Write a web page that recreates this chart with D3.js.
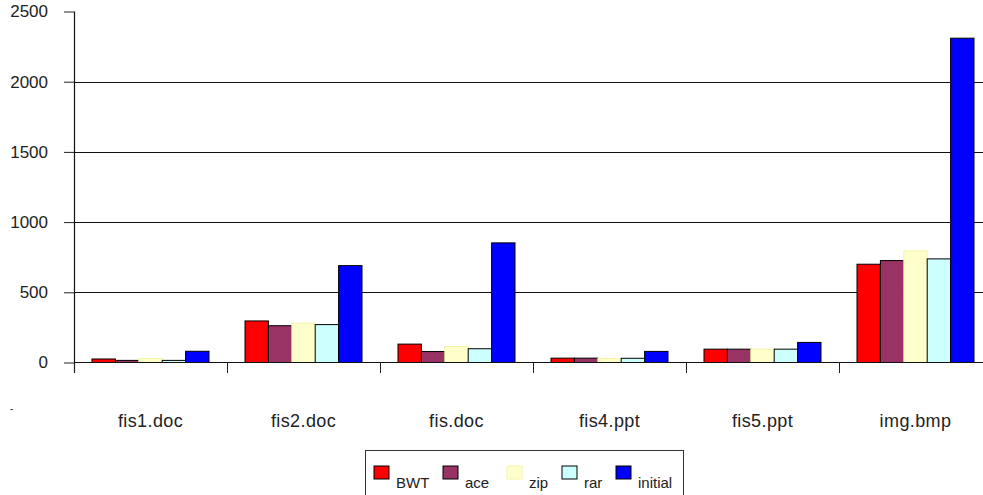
<!DOCTYPE html>
<html>
<head>
<meta charset="utf-8">
<script src="https://cdn.jsdelivr.net/npm/d3@7"></script>
<style>
  html, body { margin: 0; padding: 0; background: #fff; }
  svg { display: block; }
  text { font-family: Arial, "Liberation Sans", sans-serif; fill: #222; }
</style>
</head>
<body>
<svg id="chart" width="983" height="495"></svg>
<script>
// ---- data ----
const categories = ["fis1.doc", "fis2.doc", "fis.doc", "fis4.ppt", "fis5.ppt", "img.bmp"];
const seriesNames = ["BWT", "ace", "zip", "rar", "initial"];
const BWT     = [25, 296, 131, 31, 95, 700];
const ace     = [15, 262, 78, 31, 95, 726];
const zip     = [28, 280, 114, 28, 95, 795];
const rar     = [15, 270, 98, 30, 95, 738];
const initial = [80, 690, 852, 79, 143, 2310];
const yTicks  = [0, 500, 1000, 1500, 2000, 2500];

const seriesValues = [BWT, ace, zip, rar, initial];
const colors  = ["#ff0000", "#993366", "#ffffcc", "#ccffff", "#0000ff"];
const strokes = ["#000", "#000", "#f4f4a8", "#000", "#000"];

const svg = d3.select("#chart");

const x0 = 74, bandW = 153;
const x = d3.scaleBand().domain(categories)
  .range([x0, x0 + bandW * categories.length]).padding(0);
const xs = d3.scaleBand().domain(seriesNames)
  .range([18, bandW - 18]).padding(0);
const y = d3.scaleLinear().domain([0, 2500]).range([362.5, 11.5]);

// gridlines (not at 0 or 2500)
svg.append("g").selectAll("line")
  .data(yTicks.filter(d => d > 0 && d < 2500))
  .join("line")
  .attr("x1", x0).attr("x2", 983)
  .attr("y1", d => Math.round(y(d)) + 0.5).attr("y2", d => Math.round(y(d)) + 0.5)
  .attr("stroke", "#111").attr("stroke-width", 1.2);

// bars
const groups = svg.append("g").selectAll("g")
  .data(categories)
  .join("g")
  .attr("transform", d => `translate(${x(d)},0)`);

groups.selectAll("rect")
  .data((c, ci) => seriesNames.map((s, si) => ({ s, si, v: seriesValues[si][ci] })))
  .join("rect")
  .attr("x", d => xs(d.s))
  .attr("width", xs.bandwidth())
  .attr("y", d => y(d.v))
  .attr("height", d => y(0) - y(d.v))
  .attr("fill", d => colors[d.si])
  .attr("stroke", d => strokes[d.si])
  .attr("stroke-width", 1);

// y axis
const yAxis = d3.axisLeft(y).tickValues(yTicks).tickFormat(d3.format("d")).tickSize(10).tickPadding(16);
const gy = svg.append("g").attr("transform", `translate(${x0},0)`).call(yAxis);
gy.select(".domain").remove();
gy.selectAll(".tick line").attr("stroke", "#222");
gy.selectAll(".tick text").style("font-size", "17px").attr("fill", "#222")
  .attr("font-family", "Arial, 'Liberation Sans', sans-serif");
svg.append("line").attr("x1", x0 + 0.5).attr("x2", x0 + 0.5)
  .attr("y1", y(2500)).attr("y2", 373).attr("stroke", "#111").attr("stroke-width", 1.2);

// x axis
svg.append("line").attr("x1", x0).attr("x2", 983)
  .attr("y1", y(0)).attr("y2", y(0)).attr("stroke", "#111").attr("stroke-width", 1.2);
const xAxis = d3.axisBottom(x).tickSize(0).tickPadding(52);
const gx = svg.append("g").attr("transform", `translate(0,${y(0)})`).call(xAxis);
gx.select(".domain").remove();
gx.selectAll(".tick text").style("font-size", "18px").style("letter-spacing", "0.4px")
  .attr("fill", "#333")
  .attr("font-family", "Arial, 'Liberation Sans', sans-serif");
// category boundary ticks
svg.append("g").selectAll("line")
  .data(categories)
  .join("line")
  .attr("x1", d => Math.round(x(d)) + 0.5).attr("x2", d => Math.round(x(d)) + 0.5)
  .attr("y1", y(0)).attr("y2", 373)
  .attr("stroke", "#222").attr("stroke-width", 1);

// stray mark at left
svg.append("text").attr("x", 10).attr("y", 412)
  .style("font-size", "10px").attr("fill", "#999").text("-");

// legend
const lg = svg.append("g");
lg.append("rect").attr("x", 365.5).attr("y", 450.5).attr("width", 318).attr("height", 60)
  .attr("fill", "#fff").attr("stroke", "#333").attr("stroke-width", 1);
const legendX = [374, 443, 507, 562, 616];
const items = lg.selectAll("g.item")
  .data(seriesNames)
  .join("g").attr("class", "item")
  .attr("transform", (d, i) => `translate(${legendX[i]},466)`);
items.append("rect").attr("width", 15).attr("height", 13)
  .attr("fill", (d, i) => colors[i]).attr("stroke", (d, i) => strokes[i]);
items.append("text").attr("x", 22).attr("y", 22)
  .style("font-size", "15px").attr("fill", "#222").text(d => d);
</script>
</body>
</html>
